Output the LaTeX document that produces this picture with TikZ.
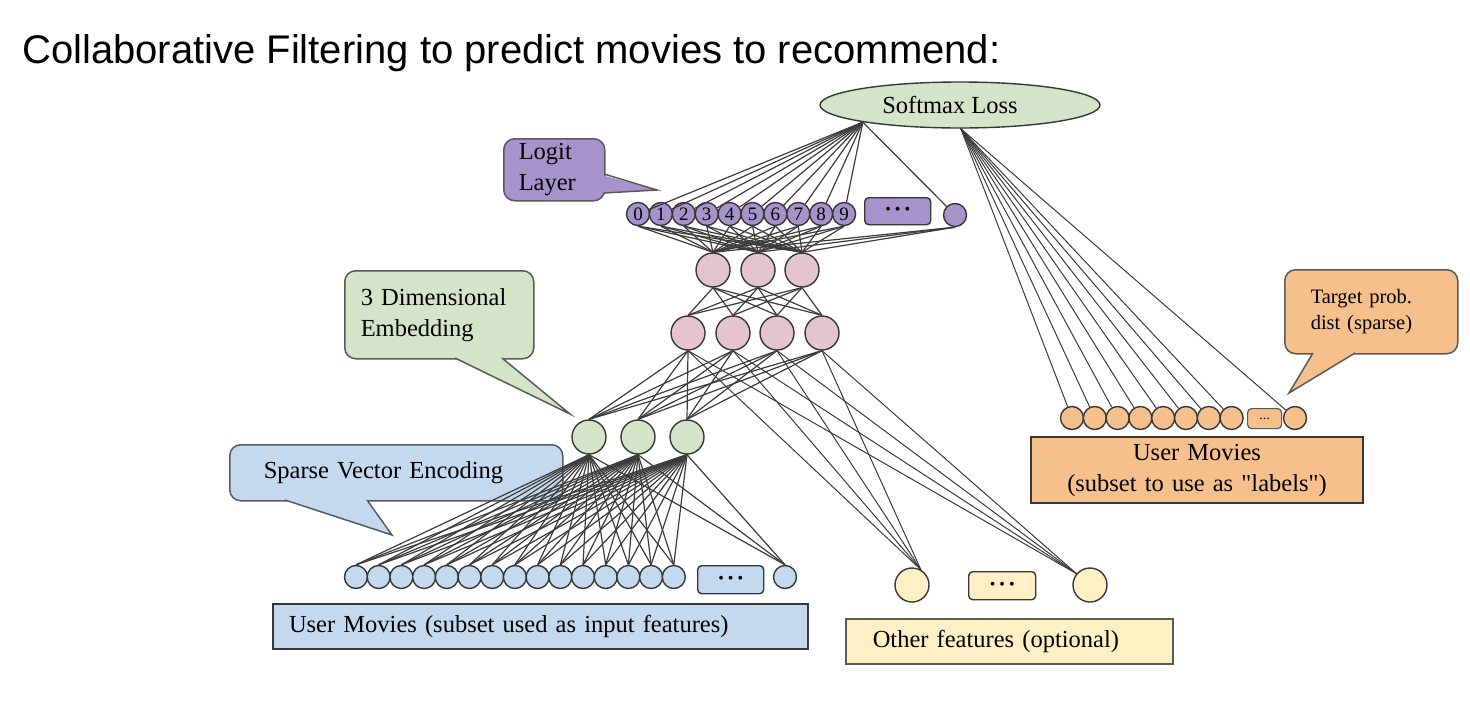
\documentclass[tikz,border=0pt]{standalone}
\usepackage{fontspec}
\setmainfont{Liberation Serif}[Ligatures=TeXOff]
\newfontfamily\titlefam{Liberation Sans}
\usetikzlibrary{shapes.geometric}
\definecolor{purp}{RGB}{166,147,204}
\definecolor{pinkc}{RGB}{229,196,210}
\definecolor{greenc}{RGB}{211,228,200}
\definecolor{bluec}{RGB}{197,217,238}
\definecolor{orangec}{RGB}{246,192,140}
\definecolor{yellowc}{RGB}{254,240,196}
\definecolor{edgec}{RGB}{55,55,55}
\definecolor{linec}{RGB}{60,60,60}
\definecolor{callc}{RGB}{90,90,90}
\newcommand\labfont{\fontsize{24.5}{31}\selectfont}
\newcommand\smallfont{\fontsize{20.5}{26}\selectfont}
\newcommand\digitfont{\fontsize{19}{19}\selectfont}
\begin{document}
\begin{tikzpicture}[x=1pt,y=-1pt,
  conn/.style={draw=linec, line width=1.2pt},
  connthin/.style={draw=linec, line width=1pt},
  unit/.style={circle, draw=edgec, line width=1.4pt, inner sep=0pt},
  smallunit/.style={unit, minimum size=23},
  bigunit/.style={unit, minimum size=34},
  logit/.style={smallunit, fill=purp, font=\digitfont},
  dotbox/.style={draw=edgec, line width=1.4pt, rounded corners=4pt, inner sep=0pt, anchor=north west},
  callbox/.style={draw=callc, line width=1.5pt, rounded corners=11pt, anchor=north west, align=left, inner ysep=0pt, font=\labfont},
  callptr/.style={draw=callc, line width=1.5pt},
  labelbox/.style={draw=edgec, line width=2pt, anchor=north west, inner ysep=0pt, font=\labfont}
]
\useasboundingbox (0,0) rectangle (1470,712);

% title
\node[anchor=base west, inner sep=0pt, font=\titlefam\fontsize{40}{48}\selectfont] (title) at (22,63) {Collaborative Filtering to predict movies to recommend:};

% callouts
\node[callbox, fill=purp, minimum width=101, minimum height=62, text width=71, inner xsep=15] (logitcall) at (503,138) {Logit\\Layer};
\fill[purp] (598,174) -- (657,190) -- (598,193) -- cycle;
\draw[callptr] (604,174) -- (657,190) -- (604,193);

\node[callbox, fill=greenc, minimum width=189, minimum height=88, text width=157, inner xsep=16] (embcall) at (344,270) {3 Dimensional\\Embedding};
\fill[greenc] (455,352) -- (455,358) -- (570,414) -- (502,358) -- (502,352) -- cycle;
\draw[callptr] (455,358) -- (570,414) -- (502,358);

\node[callbox, fill=bluec, minimum width=333, minimum height=56, text width=265, inner xsep=34] (sparsecall) at (229,444) {Sparse Vector Encoding};
\fill[bluec] (285,494) -- (285,500) -- (392,535) -- (367,500) -- (367,494) -- cycle;
\draw[callptr] (285,500) -- (392,535) -- (367,500);

\node[callbox, fill=orangec, minimum width=173, minimum height=84, text width=121, inner xsep=26, font=\smallfont] (targetcall) at (1284,269) {Target prob.\\dist (sparse)};
\fill[orangec] (1313,347) -- (1313,353) -- (1289,393) -- (1355,353) -- (1355,347) -- cycle;
\draw[callptr] (1313,353) -- (1289,393) -- (1355,353);

% softmax
\node[ellipse, draw=edgec, line width=1.4pt, fill=greenc, minimum width=280, minimum height=46, inner sep=0pt, font=\labfont] (sm) at (960,105) {Softmax Loss\kern20pt\relax};

% logit layer
\foreach \i in {0,...,9} \node[logit] (L\i) at ({638+22.9*\i},214) {\i};
\node[dotbox, fill=purp, minimum width=66, minimum height=27] (Ldots) at (864,197) {\fontsize{16}{16}\selectfont\textbullet\hspace{4pt}\textbullet\hspace{4pt}\textbullet};
\node[logit] (L10) at (955,215) {};

% hidden layers
\foreach \p/\x in {1/713,2/758,3/802} \node[bigunit, fill=pinkc] (P\p) at (\x,270) {};
\foreach \q/\x in {1/688,2/733,3/777,4/822} \node[bigunit, fill=pinkc] (Q\q) at (\x,333) {};
\foreach \g/\x in {1/589,2/638,3/687} \node[bigunit, fill=greenc] (G\g) at (\x,437) {};

% input layer
\foreach \j in {0,...,14} \node[smallunit, fill=bluec] (B\j) at ({356+22.7*\j},577) {};
\node[dotbox, fill=bluec, minimum width=66, minimum height=28] (Bdots) at (697,565) {\fontsize{16}{16}\selectfont\textbullet\hspace{4pt}\textbullet\hspace{4pt}\textbullet};
\node[smallunit, fill=bluec] (B15) at (785,577) {};
\node[labelbox, fill=bluec, minimum width=535, minimum height=45, text width=503, inner xsep=16, align=left] (bluelab) at (272,603) {User Movies (subset used as input features)};

% other features
\node[bigunit, fill=yellowc] (Y1) at (912,585) {};
\node[dotbox, fill=yellowc, minimum width=67, minimum height=28] (Ydots) at (968,571) {\fontsize{16}{16}\selectfont\textbullet\hspace{4pt}\textbullet\hspace{4pt}\textbullet};
\node[bigunit, fill=yellowc] (Y2) at (1090,585) {};
\node[labelbox, fill=yellowc, draw=callc, line width=1.5pt, minimum width=327, minimum height=45, text width=273, inner xsep=27, align=left] (yellab) at (845,618) {Other features (optional)};

% labels (output)
\foreach \k in {0,...,7} \node[smallunit, fill=orangec] (O\k) at ({1072+22.8*\k},418) {};
\node[dotbox, fill=orangec, draw=callc, line width=1.2pt, minimum width=34, minimum height=20] (Odots) at (1247,408) {\fontsize{14}{14}\selectfont...};
\node[smallunit, fill=orangec] (O8) at (1295,418) {};
\node[labelbox, fill=orangec, minimum width=332, minimum height=66, text width=300, inner xsep=16, align=center] (orlab) at (1030,436) {User Movies\\(subset to use as "labels")};

% connectors
\foreach \i in {0,...,10} \draw[conn] (sm.190) -- (L\i);
\foreach \k in {0,...,8} \draw[connthin] (sm.272) -- (O\k);
\foreach \i in {0,...,10} \foreach \p in {1,2,3} \draw[conn] (L\i.south) -- (P\p.north);
\foreach \p in {1,2,3} \foreach \q in {1,...,4} \draw[conn] (P\p.south) -- (Q\q.north);
\foreach \q in {1,...,4} \foreach \g in {1,2,3} \draw[conn] (Q\q.south) -- (G\g.north);
\foreach \q in {1,...,4} {
  \draw[connthin] (Q\q.south) -- (Y1.60);
  \draw[connthin] (Q\q.south) -- (Y2.140);
}
\foreach \g in {1,2,3} \foreach \b in {0,...,15} \draw[conn] (G\g.south) -- (B\b.north);
\end{tikzpicture}
\end{document}
